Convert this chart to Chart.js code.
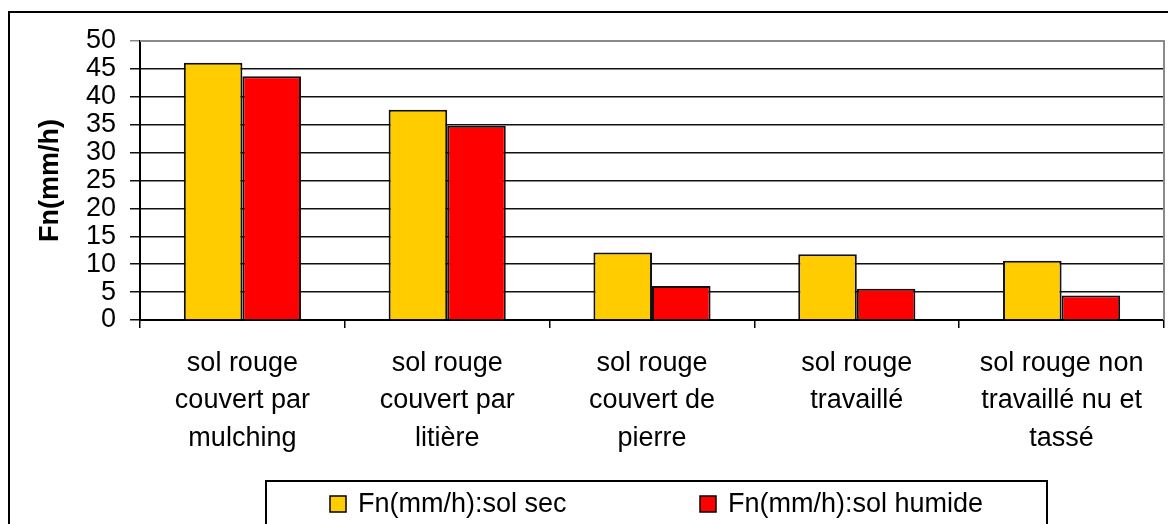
<!DOCTYPE html>
<html>
<head>
<meta charset="utf-8">
<script src="https://cdn.jsdelivr.net/npm/chart.js@4/dist/chart.umd.min.js"></script>
<style>
  html, body { margin: 0; padding: 0; background: #fff; }
  #wrap { position: relative; width: 1168px; height: 524px; }
</style>
</head>
<body>
<div id="wrap"><canvas id="c" width="1168" height="524"></canvas></div>
<script>
// Infiltration rate Fn (mm/h) for five red-soil surface conditions
const categories = [
  ['sol rouge', 'couvert par', 'mulching'],
  ['sol rouge', 'couvert par', 'litière'],
  ['sol rouge', 'couvert de', 'pierre'],
  ['sol rouge', 'travaillé'],
  ['sol rouge non', 'travaillé nu et', 'tassé']
];
const solSec = [46.1, 37.7, 12.1, 11.8, 10.6];
const solHumide = [43.7, 34.8, 6.1, 5.6, 4.4];
const seriesNames = ['Fn(mm/h):sol sec', 'Fn(mm/h):sol humide'];
const seriesColors = ['#FFCC00', '#FF0000'];
const yTicks = [0, 5, 10, 15, 20, 25, 30, 35, 40, 45, 50];
const yTitle = 'Fn(mm/h)';

const FONT = '"Liberation Sans", Arial, sans-serif';

// Frame around the whole chart, plot-area border, and the boxed legend
const framePlugin = {
  id: 'frame',
  afterDraw(chart) {
    const ctx = chart.ctx;
    const a = chart.chartArea;
    ctx.save();
    // plot area border (top and right)
    ctx.strokeStyle = '#8a8a8a';
    ctx.lineWidth = 2;
    ctx.beginPath();
    ctx.moveTo(a.left, a.top);
    ctx.lineTo(a.right, a.top);
    ctx.lineTo(a.right, a.bottom);
    ctx.stroke();
    // outer frame
    ctx.strokeStyle = '#000';
    ctx.lineWidth = 2;
    ctx.strokeRect(9, 12, 1300, 700);
    // legend box
    ctx.strokeRect(266, 481, 781, 200);
    const items = [
      { x: 330, label: chart.data.datasets[0].label, color: chart.data.datasets[0].backgroundColor },
      { x: 700, label: chart.data.datasets[1].label, color: chart.data.datasets[1].backgroundColor }
    ];
    ctx.font = '27px ' + FONT;
    ctx.textBaseline = 'middle';
    items.forEach(it => {
      ctx.fillStyle = it.color;
      ctx.fillRect(it.x, 496, 16, 16);
      ctx.strokeStyle = '#000';
      ctx.lineWidth = 1.5;
      ctx.strokeRect(it.x, 496, 16, 16);
      ctx.fillStyle = '#000';
      ctx.fillText(it.label, it.x + 28, 505);
    });
    ctx.restore();
  }
};

new Chart(document.getElementById('c'), {
  type: 'bar',
  data: {
    labels: categories,
    datasets: [
      { label: seriesNames[0], data: solSec, backgroundColor: seriesColors[0], borderColor: '#111', borderWidth: 2 },
      { label: seriesNames[1], data: solHumide, backgroundColor: seriesColors[1], borderColor: '#111', borderWidth: 2 }
    ]
  },
  options: {
    responsive: false,
    animation: false,
    devicePixelRatio: 1,
    layout: { padding: { top: 41, right: 4, bottom: 0, left: 0 } },
    datasets: { bar: { categoryPercentage: 0.572, barPercentage: 1.0 } },
    plugins: {
      legend: { display: false },
      tooltip: { enabled: false }
    },
    scales: {
      x: {
        grid: { offset: true, drawOnChartArea: false, color: '#000', lineWidth: 1.5, tickLength: 8 },
        border: { color: '#000', width: 2 },
        ticks: { color: '#000', font: { family: FONT, size: 27, lineHeight: 1.38 }, padding: 17, maxRotation: 0, autoSkip: false },
        afterFit(scale) { scale.height = 204; }
      },
      y: {
        min: 0,
        max: 50,
        afterBuildTicks(scale) { scale.ticks = yTicks.map(v => ({ value: v })); },
        grid: {
          color: ctx => (ctx.tick && ctx.tick.value === 50 ? '#8a8a8a' : '#111'),
          lineWidth: 1.5,
          tickLength: 10,
          drawTicks: true
        },
        border: { color: '#000', width: 2 },
        ticks: { color: '#000', font: { family: FONT, size: 27 }, padding: 14, autoSkip: false },
        title: {
          display: true,
          text: yTitle,
          color: '#000',
          font: { family: FONT, size: 27, weight: 'bold' },
          padding: { top: 34, bottom: 0 }
        },
        afterFit(scale) { scale.width = 140; }
      }
    }
  },
  plugins: [framePlugin]
});
</script>
</body>
</html>
